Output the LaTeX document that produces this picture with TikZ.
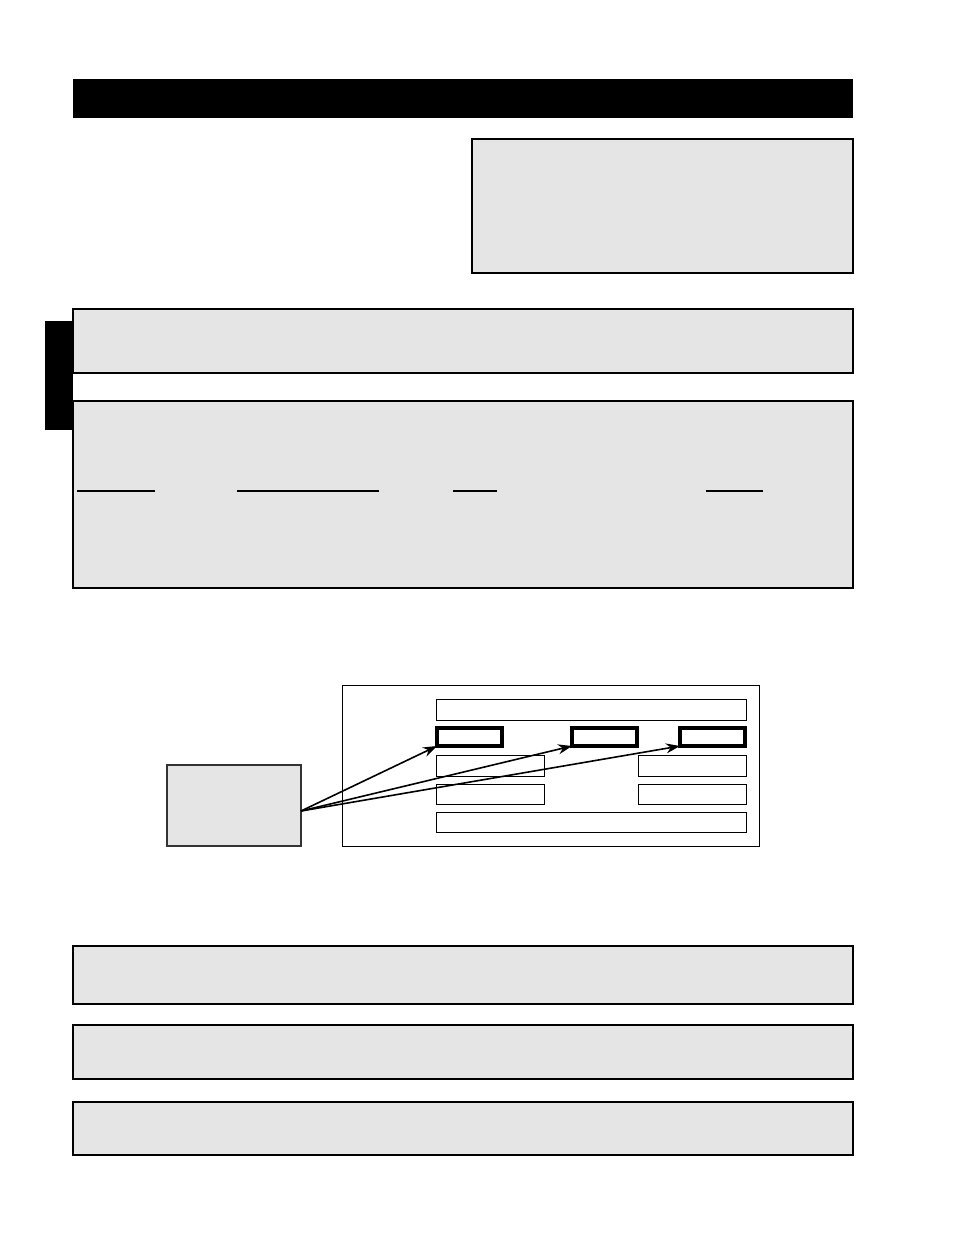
\documentclass[tikz,border=0pt]{standalone}
\usepackage{xcolor}
\usetikzlibrary{arrows.meta,positioning}
\definecolor{boxgray}{RGB}{229,229,229}
\newcommand{\px}{0.25mm}

\begin{document}
\begin{tikzpicture}[x=0.25mm, y=-0.25mm]
    \tikzset{
        panel/.style={rectangle, draw, inner sep=0pt, outer sep=0pt, anchor=north west},
        graypanel/.style={panel, fill=boxgray, line width=1.5*\px},
        slot/.style={panel, line width=1*\px},
        pick/.style={panel, line width=3.2*\px},
        link/.style={-{Stealth[length=14*\px, width=10*\px]}, line width=1.6*\px}
    }
    \useasboundingbox (0,0) rectangle (954,1235);

    % header and side tab
    \node (head) [panel, draw=none, fill=black, minimum width=780*\px, minimum height=39*\px] at (73,79) {};
    \node (tab) [panel, draw=none, fill=black, minimum width=28*\px, minimum height=109*\px] at (45,321) {};

    % upper panels
    \node (1) [graypanel, line width=2*\px, minimum width=381*\px, minimum height=134*\px] at (472,139) {};
    \node (2) [graypanel, minimum width=780*\px, minimum height=64*\px] at (73,309) {};
    \node (3) [graypanel, minimum width=780*\px, minimum height=187*\px] at (73,401) {};
    \draw[line width=1.2*\px] (77,491) -- (155,491);
    \draw[line width=1.2*\px] (237,491) -- (379,491);
    \draw[line width=1.2*\px] (453,491) -- (497,491);
    \draw[line width=1.2*\px] (706,491) -- (763,491);

    % form sketch
    \node (frame) [slot, minimum width=417*\px, minimum height=161*\px] at (342,685) {};
    \node (src) [graypanel, draw=black!80, minimum width=134*\px, minimum height=81*\px] at (167,765) {};
    \node (bar1) [slot, minimum width=310*\px, minimum height=21*\px] at (436,699) {};
    \node (p1) [pick, minimum width=65*\px, minimum height=18*\px] at (437,728) {};
    \node (p2) [pick, minimum width=65*\px, minimum height=18*\px] at (572,728) {};
    \node (p3) [pick, minimum width=65*\px, minimum height=18*\px] at (680,728) {};
    \node (f1) [slot, minimum width=108*\px, minimum height=21*\px] at (436,755) {};
    \node (f2) [slot, minimum width=108*\px, minimum height=21*\px] at (638,755) {};
    \node (f3) [slot, minimum width=108*\px, minimum height=20*\px] at (436,784) {};
    \node (f4) [slot, minimum width=108*\px, minimum height=20*\px] at (638,784) {};
    \node (bar2) [slot, minimum width=310*\px, minimum height=20*\px] at (436,812) {};
    \coordinate (out) at (301,811);

    \draw[link] (out) to (p1.south west);
    \draw[link] (out) to (p2.south west);
    \draw[link] (out) to (p3.south west);

    % lower panels
    \node (4) [graypanel, minimum width=780*\px, minimum height=58*\px] at (73,946) {};
    \node (5) [graypanel, minimum width=780*\px, minimum height=54*\px] at (73,1025) {};
    \node (6) [graypanel, minimum width=780*\px, minimum height=53*\px] at (73,1102) {};
\end{tikzpicture}
\end{document}
